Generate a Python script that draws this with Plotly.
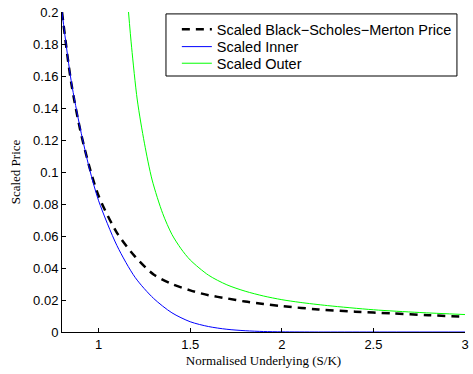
import plotly.graph_objects as go

# Scaled Black-Scholes-Merton price
bsm_x = [0.8, 0.85, 0.9, 0.95, 1.0, 1.1, 1.2, 1.3, 1.4, 1.5, 1.6, 1.7, 1.8, 1.9, 2.0, 2.2, 2.4, 2.6, 2.8, 3.0]
bsm_y = [0.200, 0.156, 0.126, 0.103, 0.085, 0.062, 0.047, 0.036, 0.030, 0.026, 0.023, 0.021, 0.019, 0.0175, 0.0162, 0.0141, 0.0127, 0.0116, 0.0105, 0.0095]

# Scaled inner bound
inner_x = [0.8, 0.85, 0.9, 0.95, 1.0, 1.1, 1.2, 1.3, 1.4, 1.5, 1.6, 1.7, 1.8, 1.9, 2.0, 2.2, 2.5, 3.0]
inner_y = [0.200, 0.157, 0.127, 0.102, 0.082, 0.054, 0.034, 0.021, 0.012, 0.0064, 0.0034, 0.0017, 0.0008, 0.0003, 0.0001, 0.0, 0.0, 0.0]

# Scaled outer bound
outer_x = [1.163, 1.18, 1.211, 1.25, 1.292, 1.35, 1.4, 1.45, 1.5, 1.6, 1.7, 1.8, 1.9, 2.0, 2.1, 2.25, 2.5, 2.75, 3.0]
outer_y = [0.200, 0.178, 0.145, 0.118, 0.095, 0.074, 0.061, 0.052, 0.045, 0.0355, 0.0295, 0.0255, 0.0225, 0.0202, 0.0185, 0.0165, 0.0139, 0.0122, 0.0109]

y_ticks = [0, 0.02, 0.04, 0.06, 0.08, 0.1, 0.12, 0.14, 0.16, 0.18, 0.2]
y_tick_labels = ["0", "0.02", "0.04", "0.06", "0.08", "0.1", "0.12", "0.14", "0.16", "0.18", "0.2"]
x_ticks = [1, 1.5, 2, 2.5, 3]
x_tick_labels = ["1", "1.5", "2", "2.5", "3"]

sans = "Liberation Sans, Arial, Helvetica, sans-serif"
serif = "Liberation Serif, Times New Roman, serif"

fig = go.Figure()
fig.add_trace(go.Scatter(x=bsm_x, y=bsm_y, mode="lines", name="Scaled Black\u2212Scholes\u2212Merton Price",
                         legend="legend",
                         line=dict(color="black", width=2.5, dash="8px,6px", shape="spline", smoothing=0.8)))
fig.add_trace(go.Scatter(x=inner_x, y=inner_y, mode="lines", name="Scaled Inner",
                         legend="legend2",
                         line=dict(color="#0000ff", width=1, shape="spline", smoothing=0.8)))
fig.add_trace(go.Scatter(x=outer_x, y=outer_y, mode="lines", name="Scaled Outer",
                         legend="legend3",
                         line=dict(color="#00ff00", width=1, shape="spline", smoothing=0.8)))

leg_font = dict(family=sans, size=14.5, color="black")
leg_common = dict(x=0.285, xanchor="left", yanchor="middle", bgcolor="rgba(0,0,0,0)",
                  borderwidth=0, font=leg_font)

fig.update_layout(
    width=473, height=374,
    margin=dict(l=62, r=4, t=12, b=42),
    paper_bgcolor="white", plot_bgcolor="white",
    showlegend=True,
    legend=dict(y=0.946, **leg_common),
    legend2=dict(y=0.8916, **leg_common),
    legend3=dict(y=0.8397, **leg_common),
    shapes=[dict(type="rect", xref="paper", yref="paper", x0=0.258, x1=0.980, y0=0.800, y1=0.994,
                 line=dict(color="black", width=1), fillcolor="white", layer="above")],
    xaxis=dict(range=[0.8, 3], tickvals=x_ticks, ticktext=x_tick_labels,
               showgrid=False, zeroline=False, showline=True, linecolor="black", linewidth=1,
               ticks="inside", ticklen=4, tickcolor="black",
               tickfont=dict(family=sans, size=13, color="black"),
               title=dict(text="Normalised Underlying (S/K)", font=dict(family=serif, size=13, color="black"), standoff=5)),
    yaxis=dict(range=[0, 0.2], tickvals=y_ticks, ticktext=y_tick_labels,
               showgrid=False, zeroline=False, showline=True, linecolor="black", linewidth=1,
               ticks="inside", ticklen=4, tickcolor="black",
               tickfont=dict(family=sans, size=13, color="black"),
               title=dict(text="Scaled Price", font=dict(family=serif, size=13, color="black"), standoff=9)),
)

fig.write_html("out.html")
